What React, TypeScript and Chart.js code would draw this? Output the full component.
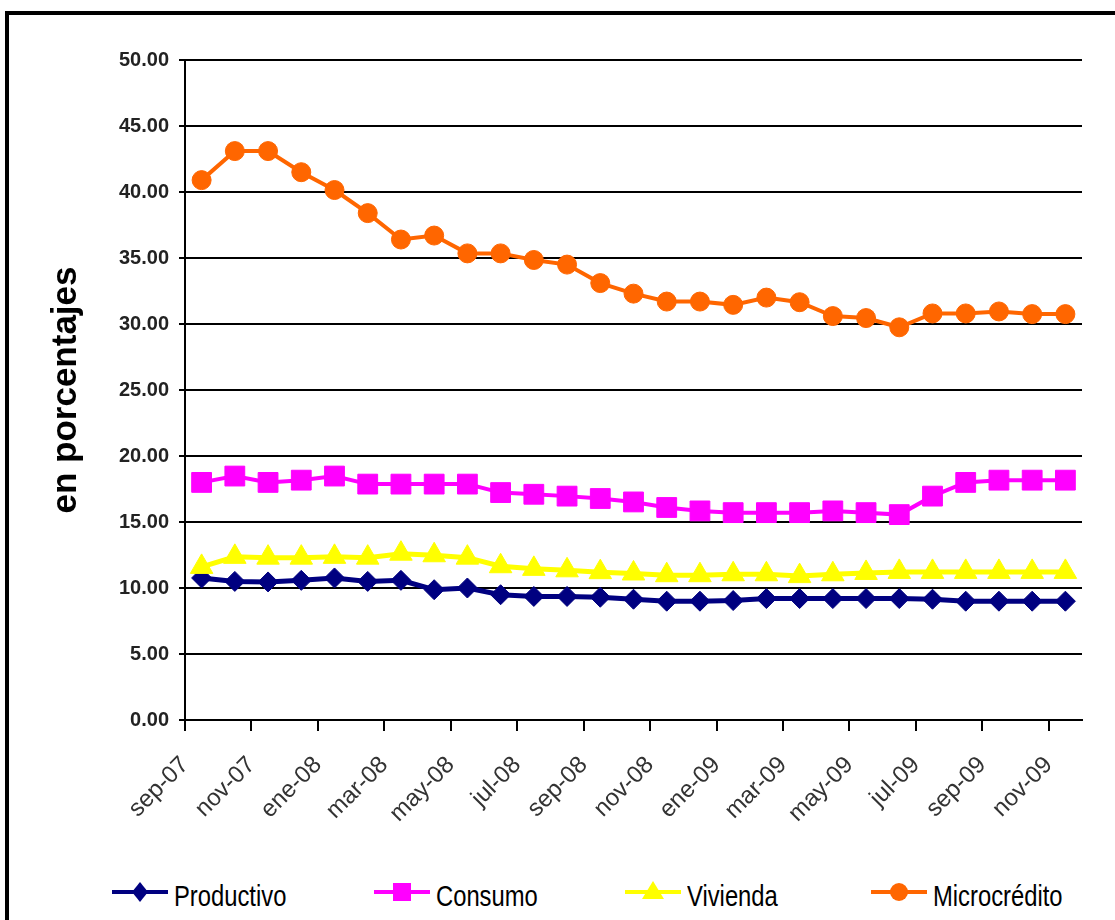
import React, { useEffect, useRef } from "react";
import { Chart, registerables } from "chart.js";

Chart.register(...registerables);

const categories = [
  "sep-07", "oct-07", "nov-07", "dic-07", "ene-08", "feb-08", "mar-08", "abr-08", "may-08",
  "jun-08", "jul-08", "ago-08", "sep-08", "oct-08", "nov-08", "dic-08", "ene-09", "feb-09",
  "mar-09", "abr-09", "may-09", "jun-09", "jul-09", "ago-09", "sep-09", "oct-09", "nov-09",
];

const productivo = [
  10.76, 10.5, 10.46, 10.58, 10.76, 10.5, 10.58, 9.87, 10.0, 9.49, 9.36, 9.36, 9.3, 9.15,
  9.0, 9.0, 9.05, 9.2, 9.2, 9.2, 9.2, 9.2, 9.15, 9.0, 9.0, 9.0, 9.0,
];
const consumo = [
  18.0, 18.48, 18.0, 18.17, 18.48, 17.87, 17.87, 17.87, 17.87, 17.23, 17.1, 16.96, 16.78,
  16.52, 16.1, 15.84, 15.71, 15.71, 15.71, 15.84, 15.71, 15.56, 16.96, 18.0, 18.17, 18.17, 18.17,
];
const vivienda = [
  11.6, 12.36, 12.3, 12.3, 12.36, 12.3, 12.6, 12.48, 12.3, 11.65, 11.45, 11.34, 11.2, 11.1,
  10.97, 10.97, 11.04, 11.04, 10.9, 11.04, 11.14, 11.22, 11.22, 11.22, 11.22, 11.22, 11.22,
];
const microcredito = [
  40.9, 43.1, 43.1, 41.5, 40.15, 38.4, 36.4, 36.7, 35.35, 35.35, 34.85, 34.5, 33.1, 32.3,
  31.7, 31.7, 31.45, 32.0, 31.65, 30.6, 30.45, 29.75, 30.8, 30.8, 30.95, 30.75, 30.75,
];

const yTicks = [0, 5, 10, 15, 20, 25, 30, 35, 40, 45, 50];
// boundary ticks every two months, labelled with the month that starts there
const xTickIndices = [0, 2, 4, 6, 8, 10, 12, 14, 16, 18, 20, 22, 24, 26];

const seriesNames = ["Productivo", "Consumo", "Vivienda", "Microcrédito"];
const seriesColors = ["#000080", "#FF00FF", "#FFFF00", "#FF6600"];
const seriesValues = [productivo, consumo, vivienda, microcredito];
const pointStyles = ["rectRot", "rect", "triangle", "circle"];
const pointRadii = [10, 14, 13, 9.5];
const lineWidths = [5, 4, 5, 4];

const FONT = "'Liberation Sans', Arial, Helvetica, sans-serif";

function LegendMarker({ idx }: { idx: number }) {
  const c = seriesColors[idx];
  const cx = 28;
  const cy = 12;
  let marker: React.ReactNode = null;
  if (idx === 0) {
    marker = <polygon points={`${cx - 8},${cy} ${cx},${cy - 10} ${cx + 8},${cy} ${cx},${cy + 10}`} fill={c} />;
  } else if (idx === 1) {
    marker = <rect x={cx - 9} y={cy - 9} width={18} height={18} fill={c} />;
  } else if (idx === 2) {
    marker = <polygon points={`${cx},${cy - 11} ${cx + 11},${cy + 7} ${cx - 11},${cy + 7}`} fill={c} />;
  } else {
    marker = <circle cx={cx} cy={cy} r={9} fill={c} />;
  }
  return (
    <svg width={56} height={24} style={{ display: "block" }}>
      <line x1={0} y1={cy} x2={56} y2={cy} stroke={c} strokeWidth={4} />
      {marker}
    </svg>
  );
}

export default function App() {
  const canvasRef = useRef<HTMLCanvasElement | null>(null);

  useEffect(() => {
    const canvas = canvasRef.current;
    if (!canvas) return;
    const order = [4, 3, 2, 1];
    const chart = new Chart(canvas, {
      type: "line",
      data: {
        datasets: seriesValues.map((vals, k) => ({
          label: seriesNames[k],
          data: vals.map((v, i) => ({ x: i, y: v })),
          borderColor: seriesColors[k],
          backgroundColor: seriesColors[k],
          pointBackgroundColor: seriesColors[k],
          pointBorderColor: seriesColors[k],
          borderWidth: lineWidths[k],
          pointStyle: pointStyles[k] as any,
          pointRadius: pointRadii[k],
          pointBorderWidth: 1,
          tension: 0,
          fill: false,
          order: order[k],
        })),
      },
      options: {
        animation: false,
        responsive: false,
        events: [],
        layout: { padding: { top: 60, right: 33, left: 0, bottom: 0 } },
        plugins: {
          legend: { display: false },
          tooltip: { enabled: false },
        },
        scales: {
          x: {
            type: "linear",
            min: -0.5,
            max: categories.length - 0.5,
            afterBuildTicks: (s: any) => {
              s.ticks = xTickIndices.map((i) => ({ value: i - 0.5 }));
            },
            afterFit: (s: any) => {
              s.height = 140;
            },
            ticks: {
              autoSkip: false,
              minRotation: 45,
              maxRotation: 45,
              padding: 20,
              color: "#333",
              font: { family: FONT, size: 24 },
              callback: (v: any) => categories[Math.round(Number(v) + 0.5)] ?? "",
            },
            grid: {
              drawOnChartArea: false,
              drawTicks: true,
              tickLength: 11,
              color: "#000",
              lineWidth: 2,
            },
            border: { display: true, color: "#000", width: 2 },
          },
          y: {
            min: 0,
            max: 50,
            afterBuildTicks: (s: any) => {
              s.ticks = yTicks.map((v) => ({ value: v }));
            },
            afterFit: (s: any) => {
              s.width = 185;
            },
            ticks: {
              padding: 10,
              color: "#222",
              font: { family: FONT, size: 20, weight: "bold" },
              callback: (v: any) => Number(v).toFixed(2),
            },
            grid: {
              color: "#000",
              lineWidth: 2,
              tickLength: 6,
            },
            border: { display: true, color: "#000", width: 2 },
            title: {
              display: true,
              text: "en porcentajes",
              color: "#000",
              font: { family: FONT, size: 35, weight: "bold" },
              padding: { top: 45, bottom: 0 },
            },
          },
        },
      } as any,
    });
    return () => chart.destroy();
  }, []);

  const legendLeft = [112, 374, 625, 871];

  return (
    <div
      style={{
        position: "fixed",
        left: 0,
        top: 0,
        width: 1115,
        height: 920,
        overflow: "hidden",
        background: "#fff",
      }}
    >
      <div
        style={{
          position: "absolute",
          left: 5,
          top: 11,
          width: 1200,
          height: 1000,
          border: "4px solid #000",
        }}
      />
      <canvas
        ref={canvasRef}
        width={1115}
        height={860}
        style={{ position: "absolute", left: 0, top: 0, width: 1115, height: 860 }}
      />
      {seriesNames.map((name, k) => (
        <div
          key={name}
          style={{
            position: "absolute",
            left: legendLeft[k],
            top: 880,
            height: 24,
            display: "flex",
            alignItems: "center",
          }}
        >
          <LegendMarker idx={k} />
          <span
            style={{
              display: "inline-block",
              marginLeft: 6,
              fontFamily: FONT,
              fontSize: 29,
              lineHeight: "24px",
              color: "#000",
              transform: "scaleX(0.82)",
              transformOrigin: "left center",
              whiteSpace: "nowrap",
              marginTop: 8,
            }}
          >
            {name}
          </span>
        </div>
      ))}
    </div>
  );
}
